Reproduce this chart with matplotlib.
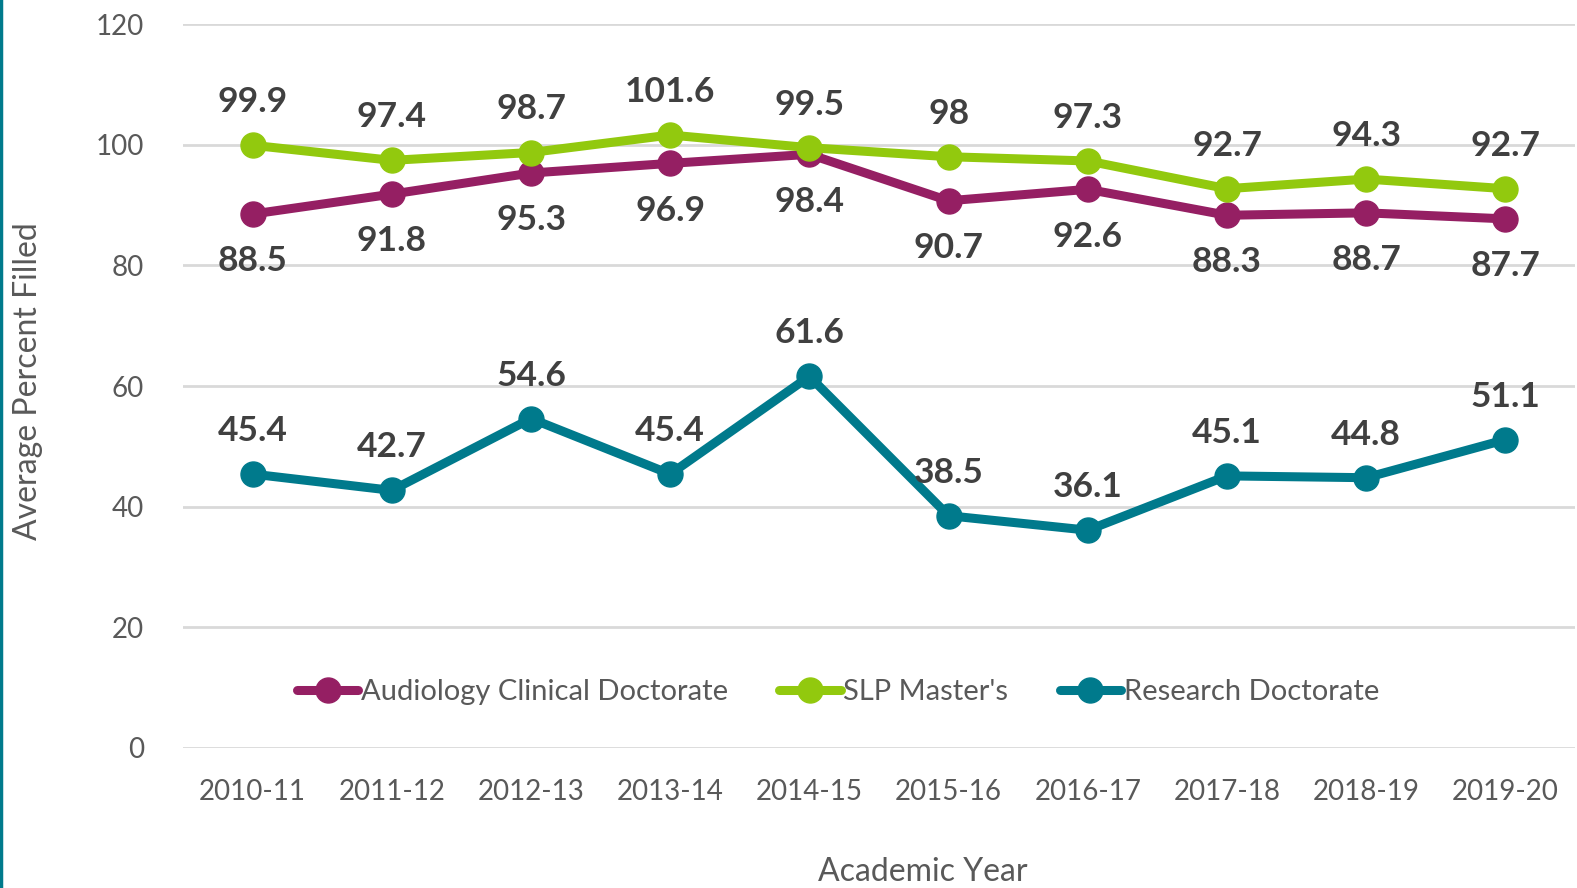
import matplotlib
matplotlib.use("Agg")
import matplotlib.pyplot as plt
from matplotlib.lines import Line2D

years = ["2010-11", "2011-12", "2012-13", "2013-14", "2014-15",
         "2015-16", "2016-17", "2017-18", "2018-19", "2019-20"]
audiology = [88.5, 91.8, 95.3, 96.9, 98.4, 90.7, 92.6, 88.3, 88.7, 87.7]
slp = [99.9, 97.4, 98.7, 101.6, 99.5, 98, 97.3, 92.7, 94.3, 92.7]
research = [45.4, 42.7, 54.6, 45.4, 61.6, 38.5, 36.1, 45.1, 44.8, 51.1]
series_names = ["Audiology Clinical Doctorate", "SLP Master's", "Research Doctorate"]
yticks = [0, 20, 40, 60, 80, 100, 120]

colors = ["#951F63", "#92C90E", "#007A8C"]
label_color = "#404040"
tick_color = "#595959"

plt.rcParams['font.family'] = ['Lato', 'DejaVu Sans']

fig = plt.figure(figsize=(15.77, 8.88), dpi=100)
ax = fig.add_axes([183 / 1577, 1 - 748 / 888, (1575 - 183) / 1577, (748 - 24) / 888])

x = list(range(len(years)))
all_series = [audiology, slp, research]
offsets = [-34, 31, 31]  # label offsets in points
for vals, c, name, off in zip(all_series, colors, series_names, offsets):
    ax.plot(x, vals, color=c, lw=6.5, marker='o', ms=18, solid_capstyle='round',
            solid_joinstyle='round', label=name, zorder=3)
    for xi, v in zip(x, vals):
        ax.annotate(f"{v:g}", (xi, v), xytext=(0, off), textcoords='offset points',
                    ha='center', va='center', fontsize=25.5, fontweight='bold',
                    color=label_color, zorder=4)

ax.set_xlim(-0.5, len(years) - 0.5)
ax.set_ylim(0, 120)
ax.set_yticks(yticks)
ax.set_xticks(x)
ax.set_xticklabels(years)
ax.grid(axis='y', color='#D9D9D9', lw=2)
ax.set_axisbelow(True)
for s in ax.spines.values():
    s.set_visible(False)
ax.tick_params(axis='both', length=0, labelsize=20, labelcolor=tick_color)
ax.tick_params(axis='y', pad=28)
ax.tick_params(axis='x', pad=22)

fig.text(923 / 1577, 1 - 872 / 888, "Academic Year", ha='center', va='center',
         fontsize=23, color=tick_color)
fig.text(28 / 1577, 1 - 381 / 888, "Average Percent Filled", ha='center', va='center',
         rotation=90, fontsize=23, color=tick_color)

handles = [Line2D([0], [0], color=c, lw=6.5, marker='o', ms=18, solid_capstyle='round')
           for c in colors]
fig.legend(handles, series_names, loc='center', bbox_to_anchor=(838 / 1577, 1 - 692 / 888),
           ncol=3, frameon=False, fontsize=21, labelcolor=tick_color,
           handlelength=2.1, handletextpad=0.1, columnspacing=1.75)

# left teal border line
fig.add_artist(Line2D([0.0008, 0.0008], [0, 1], transform=fig.transFigure,
                      color="#007A8C", lw=2.5))

fig.savefig("out.png", dpi=100)
